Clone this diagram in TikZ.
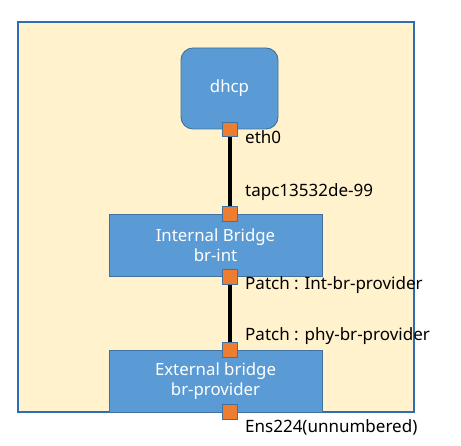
\documentclass[tikz,border=0pt]{standalone}
\usepackage{fontspec}
\setmainfont{Noto Sans}
\begin{document}
\begin{tikzpicture}[x=1pt,y=-1pt,
  outerbox/.style={draw=outerblue,fill=bgyellow,line width=1.2pt},
  blockbox/.style={draw=boxedge,fill=boxblue,line width=0.9pt,text=white,align=center,font=\fontsize{16.8}{20}\selectfont,inner sep=0pt},
  port/.style={draw=boxedge,fill=portorange,line width=0.8pt,minimum size=14.5pt,inner sep=0pt},
  wire/.style={line width=3.5pt,black},
  lbl/.style={anchor=base west,inner sep=0pt,font=\fontsize{17}{18}\selectfont}]
\definecolor{bgyellow}{HTML}{FFF2CC}
\definecolor{outerblue}{HTML}{2E6DB4}
\definecolor{boxblue}{HTML}{5B9BD5}
\definecolor{boxedge}{HTML}{41719C}
\definecolor{portorange}{HTML}{ED7D31}
\useasboundingbox (0,0) rectangle (461,446);
\node[outerbox,minimum width=396pt,minimum height=390pt,inner sep=0pt] (frame) at (216,217) {};
\node[blockbox,rounded corners=12pt,minimum width=97pt,minimum height=81pt] (dhcp) at (229.5,88.5) {dhcp};
\node[blockbox,minimum width=213pt,minimum height=62pt] (brint) at (215.5,245) {Internal Bridge\\br-int};
\node[blockbox,minimum width=213pt,minimum height=62pt] (brprov) at (215.5,381) {External bridge\\br-provider};
\node[port] (eth0) at (230,129.5) {};
\node[port] (tap) at (230,214) {};
\node[port] (intp) at (230,277) {};
\node[port] (phyp) at (230,350) {};
\node[port] (ens) at (230,412) {};
\draw[wire] (eth0.south) -- (tap.north);
\draw[wire] (intp.south) -- (phyp.north);
\node[lbl] (l1) at (245,144) {eth0};
\node[lbl] (l2) at (245,197) {tapc13532de-99};
\node[lbl] (l3) at (245,290) {Patch : Int-br-provider};
\node[lbl] (l4) at (245,341) {Patch : phy-br-provider};
\node[lbl] (l5) at (245,433) {Ens224(unnumbered)};
\end{tikzpicture}
\end{document}
